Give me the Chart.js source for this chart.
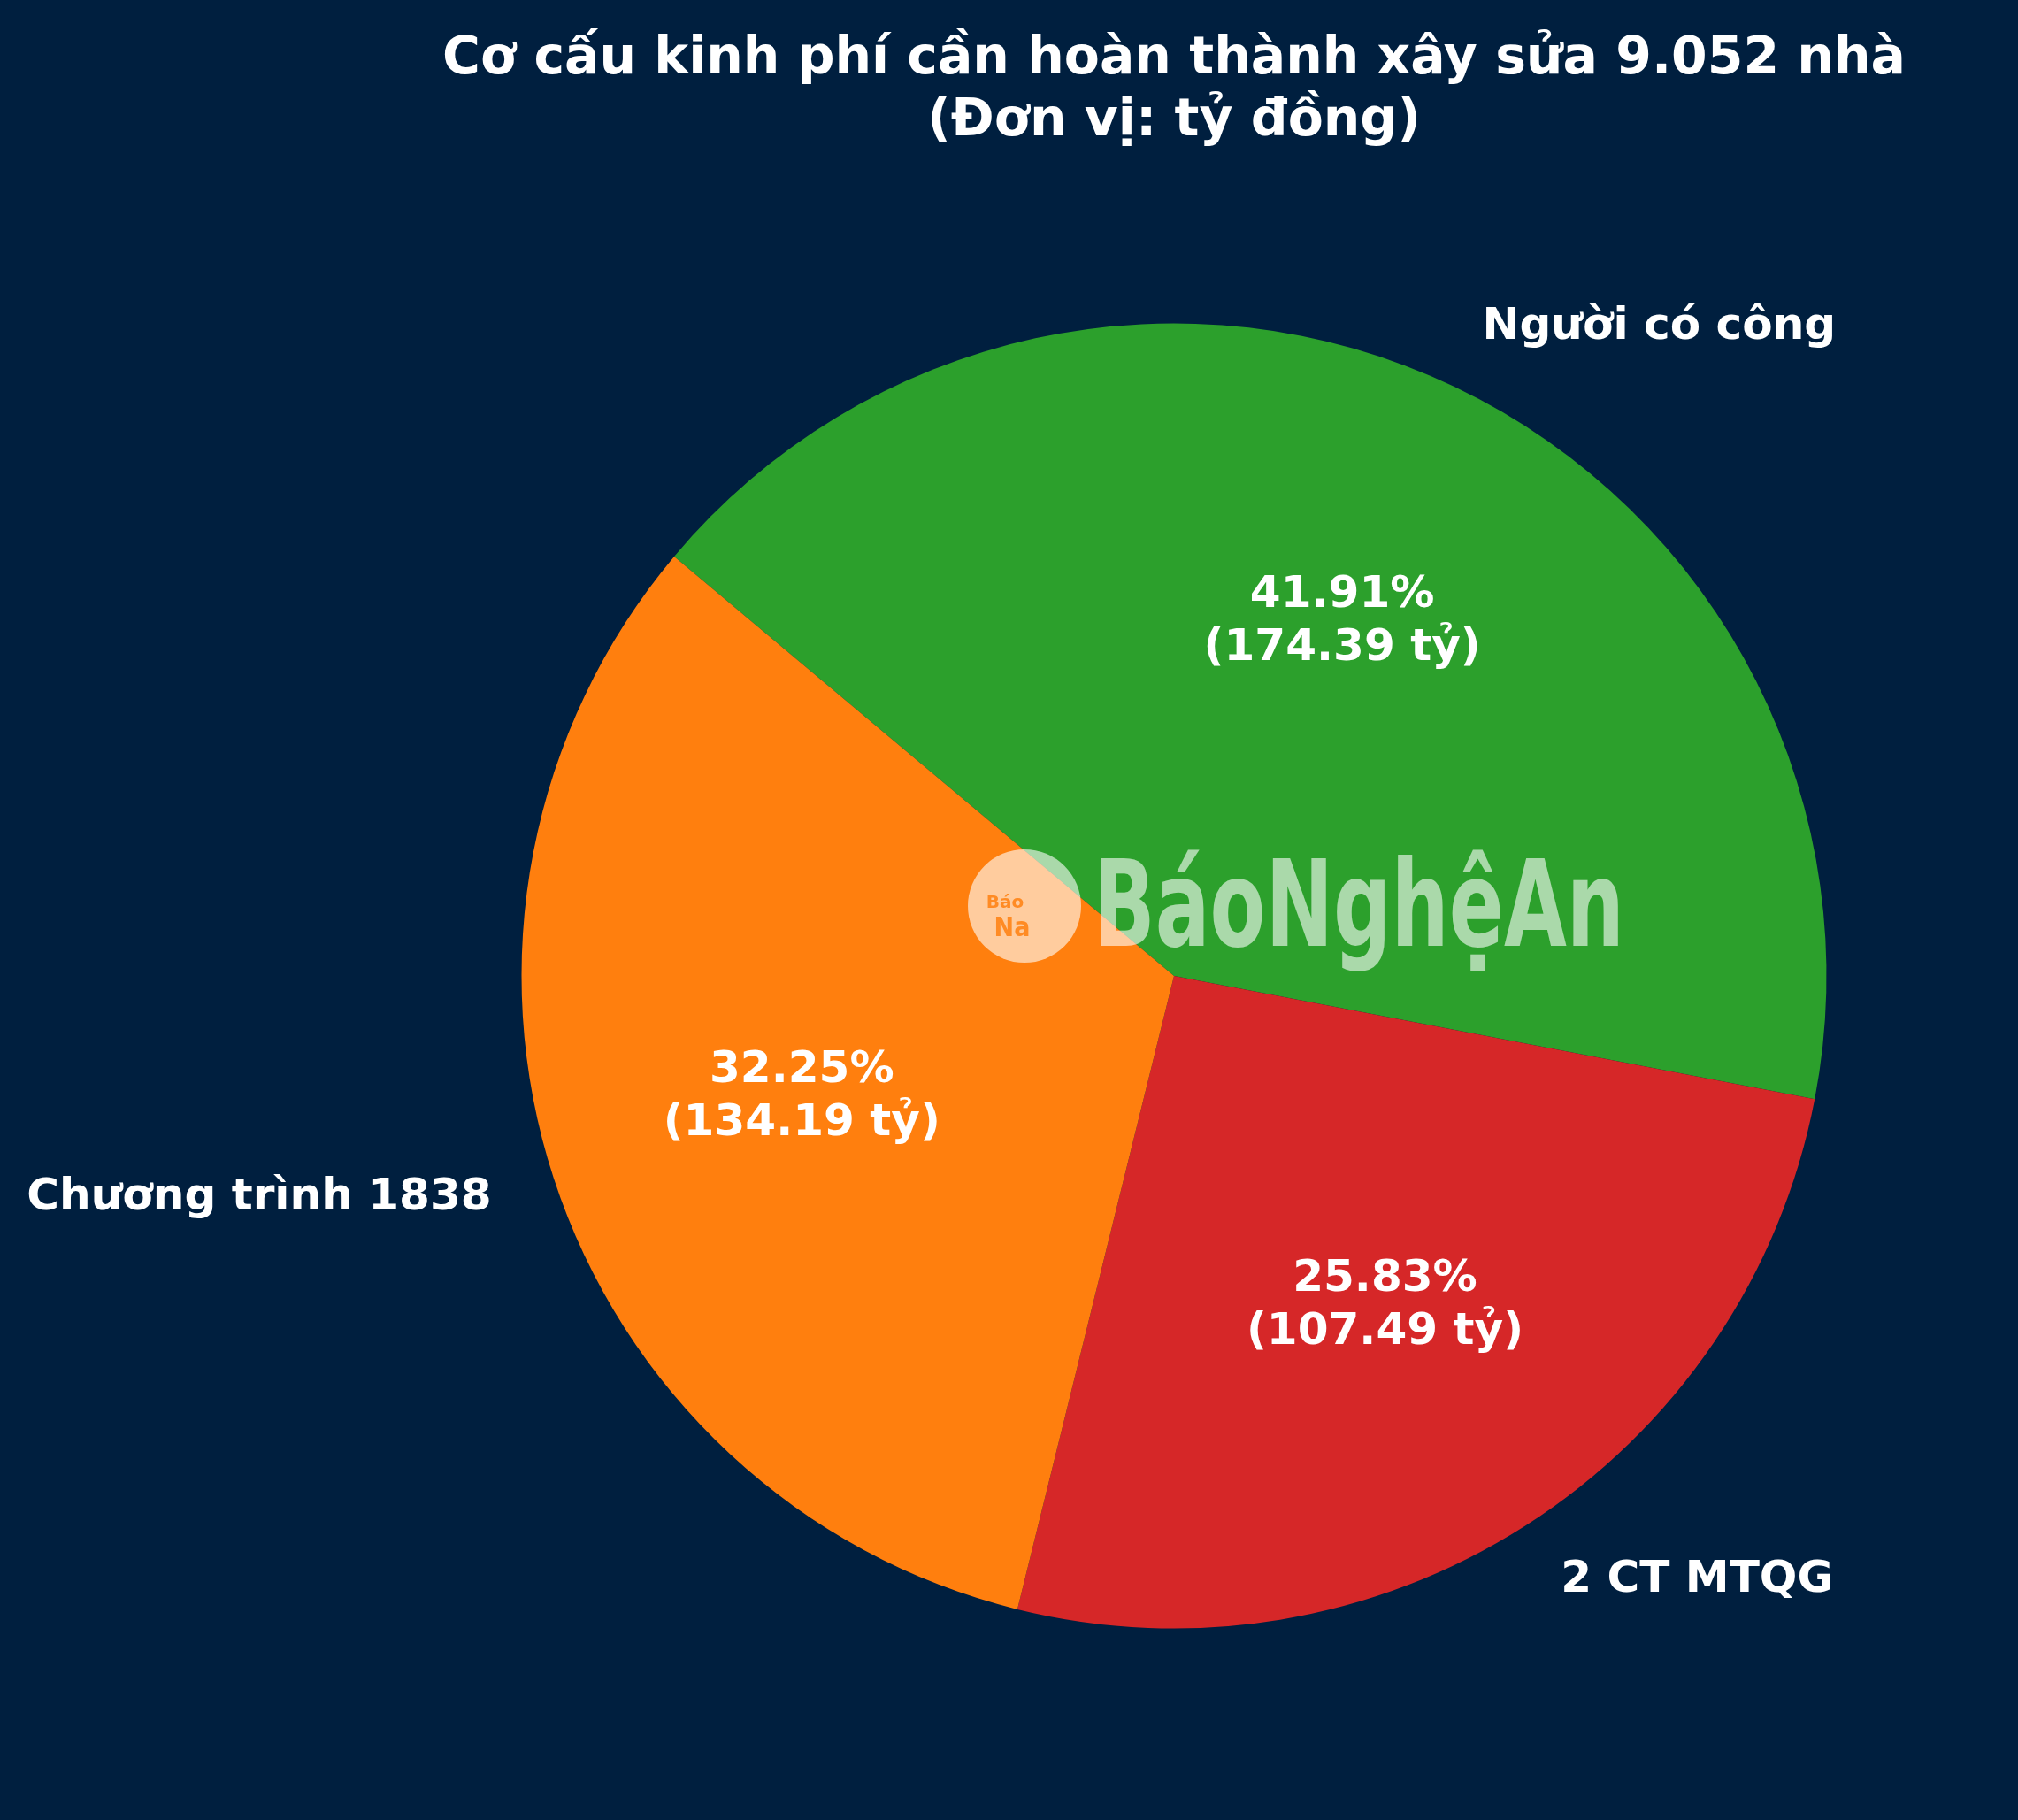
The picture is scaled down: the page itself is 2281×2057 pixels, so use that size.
<!DOCTYPE html>
<html>
<head>
<meta charset="utf-8">
<script src="https://cdn.jsdelivr.net/npm/chart.js@4.4.1/dist/chart.umd.min.js"></script>
<style>
  html, body { margin: 0; padding: 0; background: #001f3f; }
  #wrap { width: 2281px; height: 2057px; }
</style>
</head>
<body>
<div id="wrap"><canvas id="c" width="2281" height="2057"></canvas></div>
<script>
// ---- data ----
const categories = ['Người có công', '2 CT MTQG', 'Chương trình 1838'];
const values = [174.39, 107.49, 134.19];
const colors = ['#2ca02c', '#d62728', '#ff7f0e'];
const titleLines = ['Cơ cấu kinh phí cần hoàn thành xây sửa 9.052 nhà', '(Đơn vị: tỷ đồng)'];
const unitSuffix = ' tỷ';
const watermarkText = 'BáoNghệAn';

const FONT = '"DejaVu Sans", "Noto Sans", sans-serif';
const BG = '#001f3f';

const total = values.reduce((a, b) => a + b, 0);

const decorPlugin = {
  id: 'decor',
  beforeDraw(chart) {
    const ctx = chart.ctx;
    ctx.save();
    ctx.fillStyle = BG;
    ctx.fillRect(0, 0, chart.width, chart.height);
    ctx.restore();
  },
  afterDatasetsDraw(chart) {
    const ctx = chart.ctx;
    const meta = chart.getDatasetMeta(0);
    const arcs = meta.data;
    if (!arcs.length) return;
    const cx = arcs[0].x, cy = arcs[0].y, R = arcs[0].outerRadius;

    // ---- watermark (semi-transparent logo text) ----
    ctx.save();
    ctx.globalAlpha = 0.6;
    ctx.fillStyle = '#ffffff';
    const wmCx = cx - 169, wmCy = cy - 79, wmR = 64;
    ctx.beginPath();
    ctx.arc(wmCx, wmCy, wmR, 0, Math.PI * 2);
    ctx.fill();
    ctx.globalAlpha = 0.85;
    ctx.fillStyle = '#ff7f0e';
    ctx.font = 'bold 20px ' + FONT;
    ctx.textAlign = 'center';
    ctx.textBaseline = 'alphabetic';
    ctx.fillText('Báo', wmCx - 22, wmCy + 2);
    ctx.font = 'bold 30px "DejaVu Sans Condensed", ' + FONT;
    ctx.fillText('Na', wmCx - 14, wmCy + 34);
    ctx.globalAlpha = 0.6;
    ctx.fillStyle = '#ffffff';
    ctx.font = 'bold 136px "DejaVu Sans Condensed", ' + FONT;
    ctx.textAlign = 'left';
    const tw = ctx.measureText(watermarkText).width;
    const targetW = 600;
    ctx.translate(cx - 91, cy - 34);
    ctx.scale(targetW / tw, 1);
    ctx.fillText(watermarkText, 0, 0);
    ctx.restore();

    // ---- slice labels ----
    ctx.save();
    ctx.fillStyle = '#ffffff';
    const fs = 50.1;
    ctx.font = 'bold ' + fs + 'px ' + FONT;
    ctx.textBaseline = 'middle';
    arcs.forEach((arc, i) => {
      const mid = (arc.startAngle + arc.endAngle) / 2;
      const cs = Math.cos(mid), sn = Math.sin(mid);
      // outer category label
      const lx = arc.x + cs * R * 1.1;
      const ly = arc.y + sn * R * 1.1;
      ctx.textAlign = cs >= 0 ? 'left' : 'right';
      ctx.fillText(categories[i], lx, ly);
      // inner percentage label
      const px = arc.x + cs * R * 0.6;
      const py = arc.y + sn * R * 0.6;
      const pct = values[i] / total * 100;
      ctx.textAlign = 'center';
      const lh = fs * 1.2;
      ctx.fillText(pct.toFixed(2) + '%', px, py - lh / 2);
      ctx.fillText('(' + values[i].toFixed(2) + unitSuffix + ')', px, py + lh / 2);
    });
    ctx.restore();

    // ---- title ----
    ctx.save();
    ctx.fillStyle = '#ffffff';
    ctx.font = 'bold 58.4px ' + FONT;
    ctx.textAlign = 'center';
    ctx.textBaseline = 'alphabetic';
    ctx.fillText(titleLines[0], cx, 83);
    ctx.fillText(titleLines[1], cx, 153);
    ctx.restore();
  }
};

new Chart(document.getElementById('c'), {
  type: 'pie',
  data: {
    labels: categories,
    datasets: [{
      data: values,
      backgroundColor: colors,
      borderWidth: 0,
      hoverBorderWidth: 0,
      hoverOffset: 0,
      offset: 0
    }]
  },
  options: {
    responsive: false,
    animation: false,
    events: [],
    rotation: -50,
    layout: { padding: { left: 500, right: 127, top: 365.5, bottom: 216.5 } },
    plugins: {
      legend: { display: false },
      title: { display: false },
      tooltip: { enabled: false }
    }
  },
  plugins: [decorPlugin]
});
</script>
</body>
</html>
